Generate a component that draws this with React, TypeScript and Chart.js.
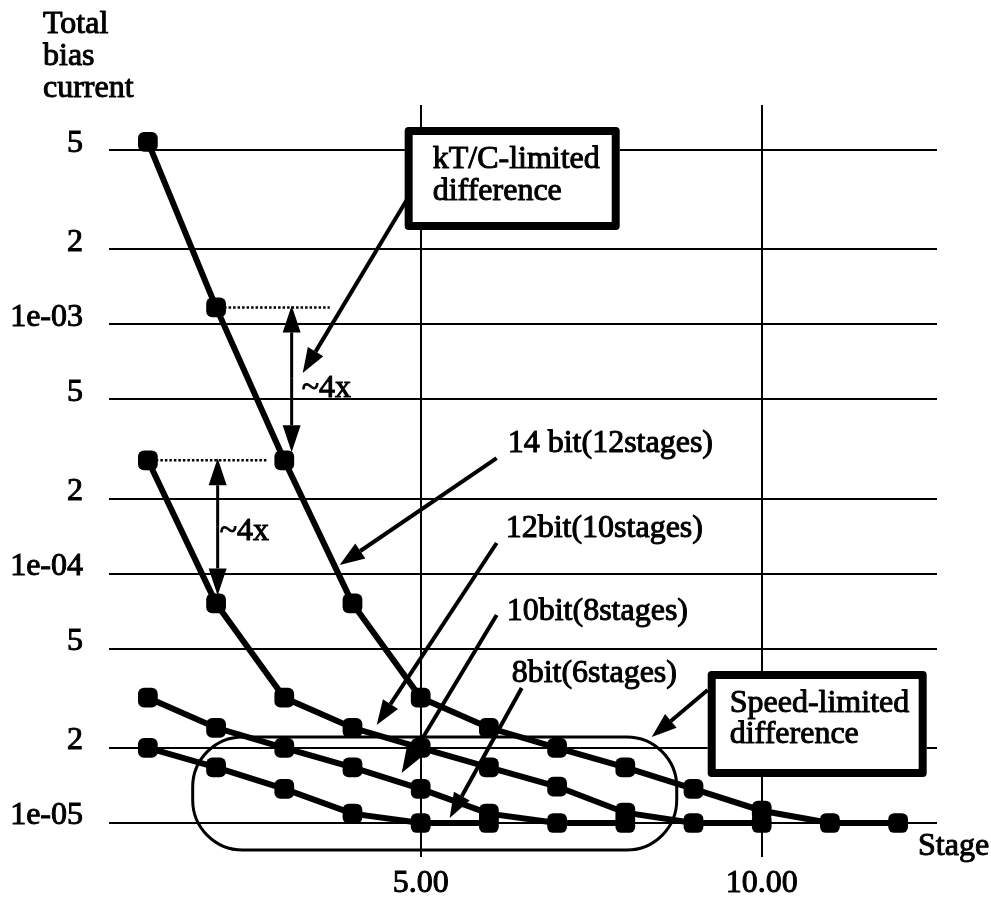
import React, { useEffect, useRef } from "react";
import { Chart, registerables } from "chart.js";

Chart.register(...registerables);

// ---- data ----
const STAGES = [1, 2, 3, 4, 5, 6, 7, 8, 9, 10, 11, 12];
const BIAS_14BIT = [5.4e-3, 1.17e-3, 2.85e-4, 7.6e-5, 3.18e-5, 2.41e-5, 2.0e-5, 1.67e-5, 1.37e-5, 1.12e-5, 1.0e-5, 1.0e-5];
const BIAS_12BIT = [2.85e-4, 7.6e-5, 3.18e-5, 2.41e-5, 2.0e-5, 1.67e-5, 1.4e-5, 1.1e-5, 1.0e-5, 1.0e-5];
const BIAS_10BIT = [3.18e-5, 2.41e-5, 2.0e-5, 1.67e-5, 1.37e-5, 1.09e-5, 1.0e-5, 1.0e-5];
const BIAS_8BIT = [2.0e-5, 1.67e-5, 1.37e-5, 1.09e-5, 1.0e-5, 1.0e-5];

const X_TICKS = [5, 10];
const Y_TICKS = [1e-5, 2e-5, 5e-5, 1e-4, 2e-4, 5e-4, 1e-3, 2e-3, 5e-3];
const Y_TICK_LABELS = ["1e-05", "2", "5", "1e-04", "2", "5", "1e-03", "2", "5"];

const X_MIN = 0.43;
const X_MAX = 12.57;
const Y_MIN = 7.305e-6;
const Y_MAX = 7.586e-3;

const FONT = "32px 'Liberation Serif'";
const FONT_FAMILY = "'Liberation Serif', 'Times New Roman', serif";
const TEXT_STROKE = 1;

// annotation anchors, in data coordinates
const LABELS = [
  { text: "14 bit(12stages)", x: 6.276, y: 3.077e-4 },
  { text: "12bit(10stages)", x: 6.246, y: 1.403e-4 },
  { text: "10bit(8stages)", x: 6.261, y: 6.52e-5 },
  { text: "8bit(6stages)", x: 6.334, y: 3.68e-5 },
  { text: "~4x", x: 3.255, y: 5.1e-4 },
  { text: "~4x", x: 2.053, y: 1.36e-4 },
];
const ARROWS = [
  { x1: 4.795, y1: 3.155e-3, x2: 3.27, y2: 6.38e-4 },
  { x1: 6.114, y1: 2.91e-4, x2: 3.812, y2: 1.083e-4 },
  { x1: 6.114, y1: 1.328e-4, x2: 4.355, y2: 2.472e-5 },
  { x1: 6.114, y1: 6.83e-5, x2: 4.721, y2: 1.587e-5 },
  { x1: 6.481, y1: 3.478e-5, x2: 5.425, y2: 1.047e-5 },
  { x1: 9.208, y1: 3.415e-5, x2: 8.387, y2: 2.213e-5 },
];
const BOXES = [
  { x1: 4.765, y1: 6.19e-3, x2: 7.918, y2: 2.39e-3, lines: ["kT/C-limited", "difference"], tx: 5.176, ty: [4.24e-3, 3.155e-3] },
  { x1: 9.208, y1: 4.07e-5, x2: 12.419, y2: 1.529e-5, lines: ["Speed-limited", "difference"], tx: 9.531, ty: [2.787e-5, 2.094e-5] },
];
const GROUP_BOX = { x1: 1.657, y1: 2.213e-5, x2: 8.754, y2: 7.79e-6 };
const DOTTED = [
  { x1: 2, x2: 3.666, y: BIAS_14BIT[1] },
  { x1: 1, x2: 2.742, y: BIAS_12BIT[0] },
];
const DOUBLE_ARROWS = [
  { x: 3.108, y1: BIAS_14BIT[1], y2: BIAS_14BIT[2] },
  { x: 2.023, y1: BIAS_12BIT[0], y2: BIAS_12BIT[1] },
];

function toPoints(values: number[]) {
  return values.map((v, i) => ({ x: STAGES[i], y: v }));
}

function drawArrow(ctx: CanvasRenderingContext2D, x1: number, y1: number, x2: number, y2: number, len = 24, half = 8, lw = 4) {
  const ang = Math.atan2(y2 - y1, x2 - x1);
  const bx = x2 - len * Math.cos(ang);
  const by = y2 - len * Math.sin(ang);
  ctx.lineWidth = lw;
  ctx.beginPath();
  ctx.moveTo(x1, y1);
  ctx.lineTo(bx, by);
  ctx.stroke();
  ctx.beginPath();
  ctx.moveTo(x2, y2);
  ctx.lineTo(bx + half * Math.sin(ang), by - half * Math.cos(ang));
  ctx.lineTo(bx - half * Math.sin(ang), by + half * Math.cos(ang));
  ctx.closePath();
  ctx.fill();
}

function roundRect(ctx: CanvasRenderingContext2D, x: number, y: number, w: number, h: number, r: number) {
  ctx.beginPath();
  ctx.moveTo(x + r, y);
  ctx.lineTo(x + w - r, y);
  ctx.arcTo(x + w, y, x + w, y + r, r);
  ctx.lineTo(x + w, y + h - r);
  ctx.arcTo(x + w, y + h, x + w - r, y + h, r);
  ctx.lineTo(x + r, y + h);
  ctx.arcTo(x, y + h, x, y + h - r, r);
  ctx.lineTo(x, y + r);
  ctx.arcTo(x, y, x + r, y, r);
  ctx.closePath();
}

function text(ctx: CanvasRenderingContext2D, t: string, x: number, y: number) {
  ctx.lineWidth = TEXT_STROKE;
  ctx.fillText(t, x, y);
  ctx.strokeText(t, x, y);
}

const annotationPlugin = {
  id: "annotations",
  afterDatasetsDraw(chart: any) {
    const ctx: CanvasRenderingContext2D = chart.ctx;
    const xs = chart.scales.x;
    const ys = chart.scales.y;
    const px = (v: number) => xs.getPixelForValue(v);
    const py = (v: number) => ys.getPixelForValue(v);
    ctx.save();
    ctx.strokeStyle = "#000";
    ctx.fillStyle = "#000";
    ctx.font = FONT;
    ctx.textBaseline = "alphabetic";
    ctx.textAlign = "left";
    ctx.lineJoin = "round";

    // dotted reference lines
    ctx.lineWidth = 2.5;
    ctx.setLineDash([2.5, 2]);
    DOTTED.forEach((d) => {
      ctx.beginPath();
      ctx.moveTo(px(d.x1) + 8, py(d.y));
      ctx.lineTo(px(d.x2), py(d.y));
      ctx.stroke();
    });
    ctx.setLineDash([]);

    // double arrows
    DOUBLE_ARROWS.forEach((d) => {
      const x = px(d.x);
      const top = py(d.y1) - 2;
      const bot = py(d.y2) - 8;
      const mid = (top + bot) / 2;
      drawArrow(ctx, x, mid, x, top, 27, 9, 3);
      drawArrow(ctx, x, mid, x, bot, 27, 9, 3);
    });

    // group rounded rect
    ctx.lineWidth = 3;
    roundRect(ctx, px(GROUP_BOX.x1), py(GROUP_BOX.y1), px(GROUP_BOX.x2) - px(GROUP_BOX.x1), py(GROUP_BOX.y2) - py(GROUP_BOX.y1), 50);
    ctx.stroke();

    // text boxes
    BOXES.forEach((b) => {
      const x1 = px(b.x1), y1 = py(b.y1), x2 = px(b.x2), y2 = py(b.y2);
      ctx.fillStyle = "#fff";
      ctx.fillRect(x1, y1, x2 - x1, y2 - y1);
      ctx.lineWidth = 8;
      ctx.strokeStyle = "#000";
      ctx.strokeRect(x1 + 4, y1 + 4, x2 - x1 - 8, y2 - y1 - 8);
      ctx.fillStyle = "#000";
      b.lines.forEach((t, i) => text(ctx, t, px(b.tx), py(b.ty[i])));
    });

    // arrows
    ARROWS.forEach((a) => drawArrow(ctx, px(a.x1), py(a.y1), px(a.x2), py(a.y2), 25, 9, 4));

    // labels
    LABELS.forEach((l) => text(ctx, l.text, px(l.x), py(l.y)));

    // axis titles
    const ca = chart.chartArea;
    text(ctx, "Total", 43, 33);
    text(ctx, "bias", 43, 65);
    text(ctx, "current", 43, 97);
    text(ctx, "Stage", ca.right - 19, ca.bottom - 2);
    ctx.restore();
  },
};

function makeDataset(label: string, values: number[]) {
  return {
    label,
    data: toPoints(values),
    borderColor: "#000",
    backgroundColor: "#000",
    borderWidth: 6,
    pointStyle: "rectRounded",
    pointRadius: 11.5,
    pointBorderWidth: 0,
    pointBackgroundColor: "#000",
    tension: 0,
  };
}

export default function App() {
  const canvasRef = useRef<HTMLCanvasElement | null>(null);

  useEffect(() => {
    document.body.style.margin = "0";
    const canvas = canvasRef.current;
    if (!canvas) return;
    const chart = new Chart(canvas, {
      type: "line",
      data: {
        datasets: [
          makeDataset("14 bit(12stages)", BIAS_14BIT),
          makeDataset("12bit(10stages)", BIAS_12BIT),
          makeDataset("10bit(8stages)", BIAS_10BIT),
          makeDataset("8bit(6stages)", BIAS_8BIT),
        ],
      },
      options: {
        responsive: false,
        animation: false,
        devicePixelRatio: 1,
        layout: { padding: { top: 105, right: 54, left: 0, bottom: 0 } },
        plugins: { legend: { display: false }, tooltip: { enabled: false } },
        scales: {
          x: {
            type: "linear",
            min: X_MIN,
            max: X_MAX,
            border: { display: false },
            grid: { color: "#000", lineWidth: 2, drawTicks: false },
            ticks: {
              color: "#000",
              font: { family: FONT_FAMILY, size: 32 },
              textStrokeColor: "#000",
              textStrokeWidth: TEXT_STROKE,
              padding: 7,
              autoSkip: false,
              maxRotation: 0,
              callback: (v: any) => Number(v).toFixed(2),
            },
            afterBuildTicks: (scale: any) => {
              scale.ticks = X_TICKS.map((v) => ({ value: v }));
            },
            afterFit: (scale: any) => {
              scale.height = 47;
            },
          },
          y: {
            type: "logarithmic",
            min: Y_MIN,
            max: Y_MAX,
            border: { display: false },
            grid: { color: "#000", lineWidth: 2, drawTicks: false },
            ticks: {
              color: "#000",
              font: { family: FONT_FAMILY, size: 32 },
              textStrokeColor: "#000",
              textStrokeWidth: TEXT_STROKE,
              padding: 26,
              labelOffset: -7,
              autoSkip: false,
              callback: (v: any) => {
                const i = Y_TICKS.findIndex((t) => Math.abs(t - Number(v)) / t < 1e-6);
                return i >= 0 ? Y_TICK_LABELS[i] : "";
              },
            },
            afterBuildTicks: (scale: any) => {
              scale.ticks = Y_TICKS.map((v) => ({ value: v }));
            },
            afterFit: (scale: any) => {
              scale.width = 109;
            },
          },
        },
      },
      plugins: [annotationPlugin],
    } as any);
    return () => chart.destroy();
  }, []);

  return <canvas ref={canvasRef} width={991} height={904} style={{ display: "block", width: 991, height: 904 }} />;
}
